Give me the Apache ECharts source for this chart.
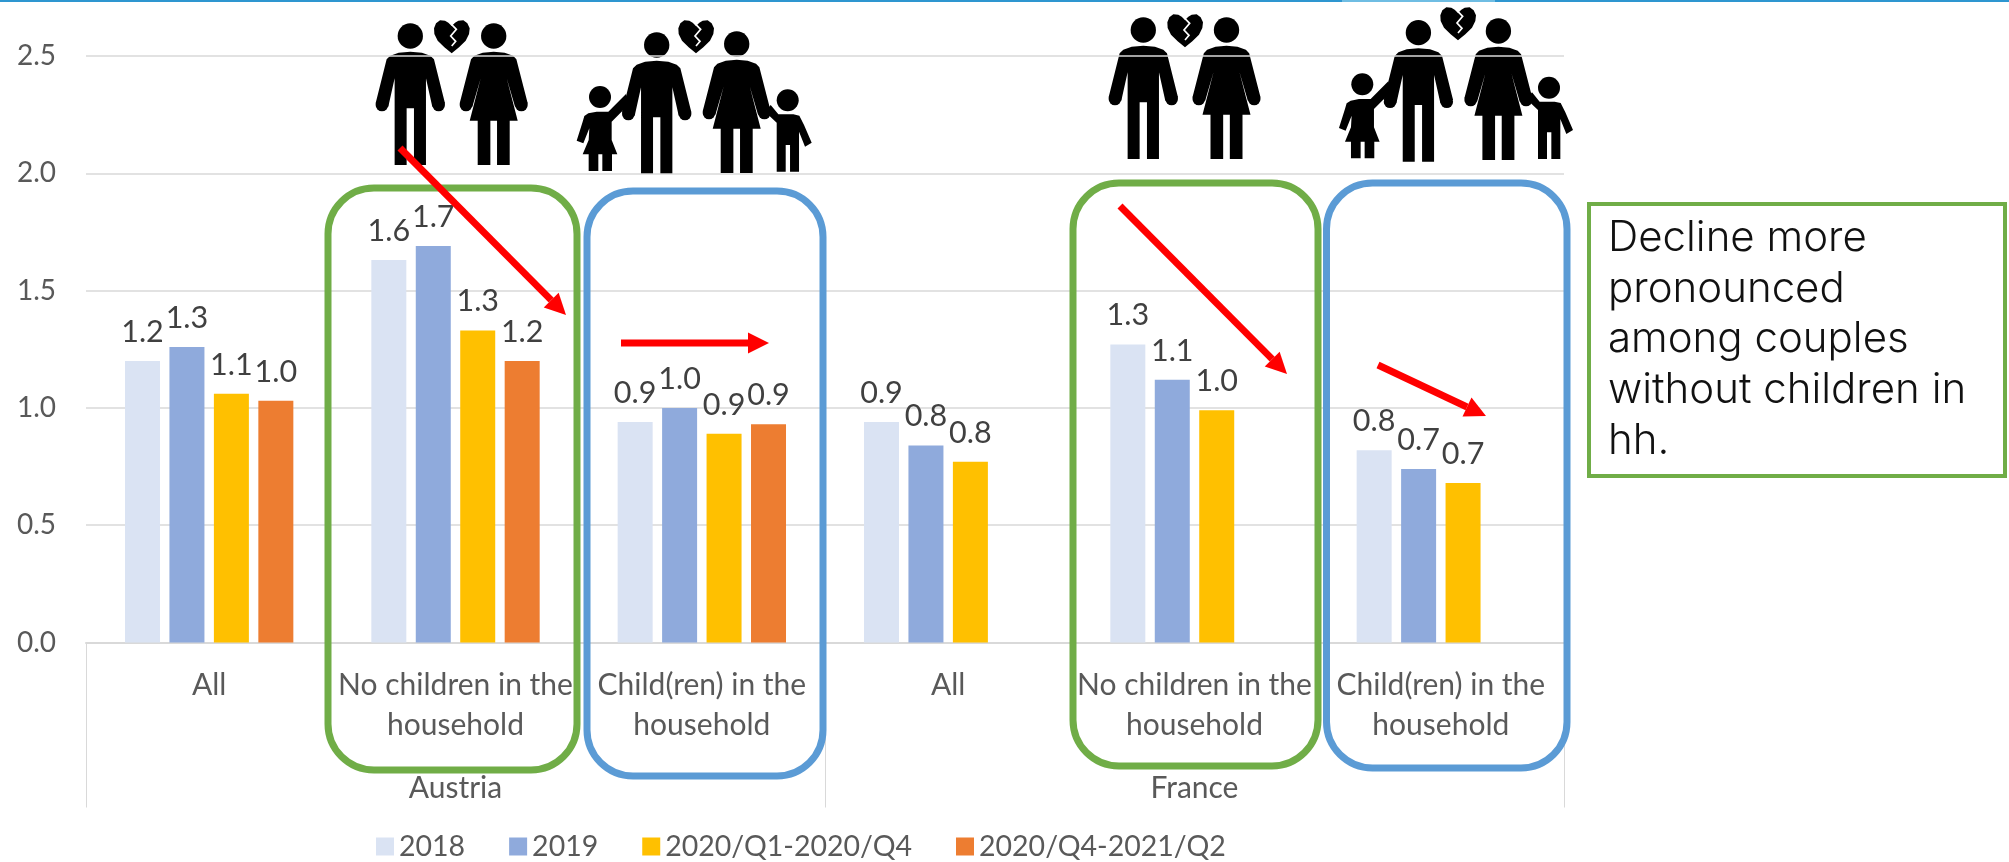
<!DOCTYPE html>
<html>
<head>
<meta charset="utf-8">
<style>html,body{margin:0;padding:0;background:#fff}#chart{width:2009px;height:862px}</style>
<script src="https://cdn.jsdelivr.net/npm/echarts@6/dist/echarts.min.js"></script>
</head>
<body>
<div id="chart"></div>
<script>
// Breakups per household type, Austria and France
const categories = ['All', 'No children in the\nhousehold', 'Child(ren) in the\nhousehold', 'All', 'No children in the\nhousehold', 'Child(ren) in the\nhousehold'];
const countries = ['Austria', 'France'];
const yTicks = { min: 0, max: 2.5, interval: 0.5 };
const values2018 = [1.20, 1.63, 0.94, 0.94, 1.27, 0.82];
const values2019 = [1.26, 1.69, 1.00, 0.84, 1.12, 0.74];
const valuesQ1Q4 = [1.06, 1.33, 0.89, 0.77, 0.99, 0.68];
const valuesQ4Q2 = [1.03, 1.20, 0.93, null, null, null];
const calloutText = 'Decline more\npronounced\namong couples\nwithout children in\nhh.';

const FONT = 'Lato, "Noto Sans", sans-serif';
const GREY = '#595959';
const RULE = '#d9d9d9';

// Pictogram outlines, in units of a third of a pixel; origin is top centre of the head
const manBody = [[-71,108],[-60,97],[-35,88],[0,85],[35,88],[60,97],[71,108],[104,240],[66,250],[47,165],[47,425],[11,425],[11,255],[-11,255],[-11,425],[-47,425],[-47,165],[-66,250],[-104,240]];
const womanBody = [[-68,108],[-58,97],[-33,88],[0,85],[33,88],[58,97],[68,108],[102,240],[64,250],[39,165],[72,292],[48,292],[48,425],[10,425],[10,292],[-10,292],[-10,425],[-48,425],[-48,292],[-72,292],[-39,165],[-64,250],[-102,240]];
const girlBody = [[-35,82],[-10,77],[25,77],[78,24],[85,57],[35,107],[35,162],[52,205],[36,205],[36,255],[7,255],[7,205],[-5,205],[-5,255],[-34,255],[-34,205],[-52,205],[-34,162],[-32,127],[-50,172],[-70,164],[-52,107],[-47,90]];
const boyBody = [[-28,75],[17,75],[35,79],[49,107],[72,160],[52,172],[34,127],[34,247],[7,247],[7,167],[-6,167],[-6,247],[-33,247],[-33,100],[-68,67],[-51,47]];
const heartOutline = [[0,18],[-10,8],[-20,2],[-35,1],[-47,10],[-53,25],[-52,42],[-42,62],[-22,82],[0,100],[22,82],[42,62],[52,42],[54,25],[47,10],[35,1],[20,2],[10,8]];
const heartCrack = [[0,14],[14,28],[-3,48],[12,64],[0,78]];

function figure(body, headR, handL, handR, x, y, scale) {
  const s = (scale || 1) / 3;
  const children = [
    { type: 'circle', z: -1, shape: { cx: 0, cy: headR, r: headR }, style: { fill: '#000' } },
    { type: 'polygon', z: -1, shape: { points: body }, style: { fill: '#000' } }
  ];
  [handL, handR].forEach(function (h) {
    if (h) children.push({ type: 'circle', z: -1, shape: { cx: h[0], cy: h[1], r: 19 }, style: { fill: '#000' } });
  });
  return { type: 'group', x: x, y: y, scaleX: s, scaleY: s, children: children };
}
function man(x, y) { return figure(manBody, 38, [-85, 245], [85, 245], x, y); }
function woman(x, y) { return figure(womanBody, 38, [-83, 245], [83, 245], x, y); }
function girl(x, y) { return figure(girlBody, 33, null, null, x, y); }
function boy(x, y) { return figure(boyBody, 33, null, null, x, y); }
function heart(x, y) {
  return { type: 'group', x: x, y: y, scaleX: 1 / 3, scaleY: 1 / 3, children: [
    { type: 'polygon', z: -1, shape: { points: heartOutline }, style: { fill: '#000' } },
    { type: 'polyline', z: -1, shape: { points: heartCrack }, style: { stroke: '#fff', lineWidth: 5, fill: null } }
  ] };
}
function roundedBox(l, t, r, b, color) {
  return { type: 'rect', z: 10, shape: { x: l, y: t, width: r - l, height: b - t, r: 46 }, style: { fill: null, stroke: color, lineWidth: 7 } };
}
// Red arrow: a shaft plus a head rotated along its direction
function arrow(x1, y1, x2, y2) {
  const a = Math.atan2(y2 - y1, x2 - x1), L = 21, W = 10.5;
  const bx = x2 - L * Math.cos(a), by = y2 - L * Math.sin(a);
  const nx = -Math.sin(a) * W, ny = Math.cos(a) * W;
  return [
    { type: 'line', z: 11, shape: { x1: x1, y1: y1, x2: bx, y2: by }, style: { stroke: '#ff0000', lineWidth: 7 } },
    { type: 'polygon', z: 11, shape: { points: [[x2, y2], [bx + nx, by + ny], [bx - nx, by - ny]] }, style: { fill: '#ff0000' } }
  ];
}

const annotations = [
  { type: 'rect', z: 12, shape: { x: 0, y: 0, width: 2009, height: 2 }, style: { fill: '#2e96d0' } },
  { type: 'rect', z: 13, shape: { x: 1342, y: 0, width: 153, height: 2 }, style: { fill: '#6fbde3' } },

  man(410.3, 23.3), woman(493.7, 23.3), heart(451.7, 20),
  man(656.7, 32.3), woman(736.7, 31.3), heart(696, 20), girl(600, 86), boy(787.7, 89.3),
  man(1143.3, 17.3), woman(1226.5, 17.3), heart(1185, 14),
  man(1418.4, 20), woman(1498.4, 18.3), heart(1458, 7), girl(1362.3, 73.3), boy(1549, 76.7),

  roundedBox(328, 188, 577, 770, '#70ad47'),
  roundedBox(587, 191, 823, 776, '#5b9bd5'),
  roundedBox(1073, 183, 1318, 766, '#70ad47'),
  roundedBox(1326.5, 183, 1567, 768, '#5b9bd5'),

  ...arrow(400, 148, 566, 315),
  ...arrow(621, 343, 769, 343),
  ...arrow(1120, 206, 1287, 374),
  ...arrow(1378, 365, 1486, 416),

  { type: 'rect', z: 10, shape: { x: 1589, y: 204, width: 416, height: 272 }, style: { fill: '#fff', stroke: '#70ad47', lineWidth: 4 } },
  { type: 'text', z: 11, x: 1608, y: 213, style: { text: calloutText, fill: '#111', font: '300 42px Inter, ' + FONT, lineHeight: 50.7, textAlign: 'left', textVerticalAlign: 'top' } }
];

function barSeries(name, values, color) {
  return {
    name: name, type: 'bar', data: values, barWidth: 35, barGap: '27%',
    itemStyle: { color: color },
    label: {
      show: true, position: 'top', distance: 13.5, color: '#404040', fontFamily: FONT, fontSize: 30.5,
      formatter: function (p) { return p.value.toFixed(1); }
    }
  };
}

const chart = echarts.init(document.getElementById('chart'), null, { renderer: 'canvas' });
chart.setOption({
  animation: false,
  backgroundColor: '#fff',
  grid: { left: 86, right: 445, top: 56, bottom: 219.5, containLabel: false },
  legend: {
    left: 371, top: 827, itemWidth: 18, itemHeight: 18, itemGap: 44,
    icon: 'rect',
    textStyle: { color: GREY, fontFamily: FONT, fontSize: 28.5 },
    data: ['2018', '2019', '2020/Q1-2020/Q4', '2020/Q4-2021/Q2']
  },
  xAxis: [
    {
      type: 'category', data: categories, position: 'bottom',
      axisLine: { show: true, lineStyle: { color: RULE, width: 2 } },
      axisTick: { show: false },
      axisLabel: { interval: 0, color: GREY, fontFamily: FONT, fontSize: 30, lineHeight: 40, margin: 23 }
    },
    {
      type: 'category', data: countries, position: 'bottom',
      axisLine: { show: false },
      axisTick: { show: true, length: 165, lineStyle: { color: RULE, width: 1 } },
      axisLabel: { interval: 0, color: GREY, fontFamily: FONT, fontSize: 30, margin: 131 }
    }
  ],
  yAxis: {
    type: 'value', min: yTicks.min, max: yTicks.max, interval: yTicks.interval,
    axisLine: { show: false }, axisTick: { show: false },
    splitLine: { lineStyle: { color: RULE, width: 1.5 } },
    axisLabel: { color: GREY, fontFamily: FONT, fontSize: 28, margin: 30, formatter: function (v) { return v.toFixed(1); } }
  },
  series: [
    barSeries('2018', values2018, '#dae3f3'),
    barSeries('2019', values2019, '#8faadc'),
    barSeries('2020/Q1-2020/Q4', valuesQ1Q4, '#ffc000'),
    barSeries('2020/Q4-2021/Q2', valuesQ4Q2, '#ed7d31')
  ],
  graphic: { elements: annotations }
});
</script>
</body>
</html>
